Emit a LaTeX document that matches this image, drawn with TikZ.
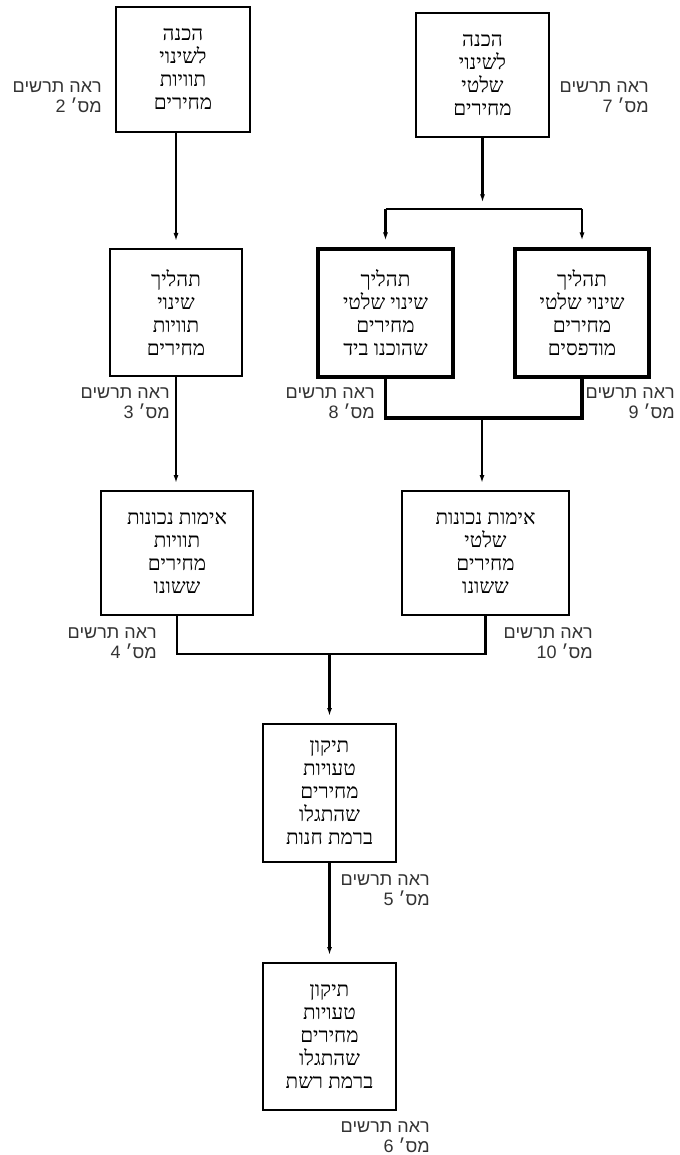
\documentclass[tikz,border=0pt]{standalone}
\usepackage{fontspec}
\usepackage{tikz}
\usetikzlibrary{arrows.meta,positioning,calc}
\TeXXeTstate=1
\newfontfamily\hebboxfont[Script=Hebrew]{Liberation Serif}
\newfontfamily\heblblfont[Script=Hebrew]{Liberation Sans}
\newcommand{\rtline}[1]{\beginR #1\endR}

\begin{document}
\begin{tikzpicture}[x=0.75pt,y=-0.75pt,
  stepbox/.style={draw,line width=2pt,align=center,inner sep=0pt,
    font=\hebboxfont\fontsize{15.5}{17.25}\selectfont},
  heavybox/.style={stepbox,line width=2.8pt},
  seeref/.style={anchor=east,align=right,inner sep=0pt,text=black!80,
    font=\heblblfont\fontsize{13.5}{15}\selectfont},
  arr/.style={-{Latex[length=6pt,width=3.8pt]},line width=1.6pt,shorten >=5pt},
  link/.style={line width=1.6pt}]
  \useasboundingbox (0,0) rectangle (679,1155);

  % top row
  \node[stepbox,minimum width=100.5pt,minimum height=93.75pt] (prepLbl) at (183,69.5)
    {\rtline{הכנה}\\\rtline{לשינוי}\\\rtline{תוויות}\\\rtline{מחירים}};
  \node[stepbox,minimum width=99.75pt,minimum height=93pt] (prepCtl) at (482.5,75)
    {\rtline{הכנה}\\\rtline{לשינוי}\\\rtline{שלטי}\\\rtline{מחירים}};

  % second row
  \node[stepbox,minimum width=99pt,minimum height=95.25pt] (procLbl) at (176,312.5)
    {\rtline{תהליך}\\\rtline{שינוי}\\\rtline{תוויות}\\\rtline{מחירים}};
  \node[heavybox,minimum width=101.25pt,minimum height=96pt] (procHand) at (385.5,313)
    {\rtline{תהליך}\\\rtline{שינוי שלטי}\\\rtline{מחירים}\\\rtline{שהוכנו ביד}};
  \node[heavybox,minimum width=100.5pt,minimum height=96pt] (procPrint) at (582,313)
    {\rtline{תהליך}\\\rtline{שינוי שלטי}\\\rtline{מחירים}\\\rtline{מודפסים}};

  % third row
  \node[stepbox,minimum width=114pt,minimum height=93pt] (checkLbl) at (177,553)
    {\rtline{אימות נכונות}\\\rtline{תוויות}\\\rtline{מחירים}\\\rtline{ששונו}};
  \node[stepbox,minimum width=125.25pt,minimum height=93pt] (checkCtl) at (485.5,553)
    {\rtline{אימות נכונות}\\\rtline{שלטי}\\\rtline{מחירים}\\\rtline{ששונו}};

  % bottom
  \node[stepbox,minimum width=99.75pt,minimum height=103.5pt] (fixShop) at (329.5,793)
    {\rtline{תיקון}\\\rtline{טעויות}\\\rtline{מחירים}\\\rtline{שהתגלו}\\\rtline{ברמת חנות}};
  \node[stepbox,minimum width=99.75pt,minimum height=110.25pt] (fixNet) at (329.5,1036.5)
    {\rtline{תיקון}\\\rtline{טעויות}\\\rtline{מחירים}\\\rtline{שהתגלו}\\\rtline{ברמת רשת}};

  % references
  \node[seeref] (ref2) at (102,97) {\rtline{ראה תרשים}\\\rtline{מס׳ \beginL2\endL}};
  \node[seeref] (ref7) at (649,97) {\rtline{ראה תרשים}\\\rtline{מס׳ \beginL7\endL}};
  \node[seeref] (ref3) at (170,403) {\rtline{ראה תרשים}\\\rtline{מס׳ \beginL3\endL}};
  \node[seeref] (ref8) at (375,403) {\rtline{ראה תרשים}\\\rtline{מס׳ \beginL8\endL}};
  \node[seeref] (ref9) at (675,403) {\rtline{ראה תרשים}\\\rtline{מס׳ \beginL9\endL}};
  \node[seeref] (ref4) at (157,643) {\rtline{ראה תרשים}\\\rtline{מס׳ \beginL4\endL}};
  \node[seeref] (ref10) at (593,643) {\rtline{ראה תרשים}\\\rtline{מס׳ \beginL10\endL}};
  \node[seeref] (ref5) at (430,890) {\rtline{ראה תרשים}\\\rtline{מס׳ \beginL5\endL}};
  \node[seeref] (ref6) at (430,1137) {\rtline{ראה תרשים}\\\rtline{מס׳ \beginL6\endL}};

  % connectors
  \coordinate (split) at (482.5,209);
  \coordinate (joinCtl) at (482,418);
  \coordinate (merge) at (329.5,654);

  \draw[arr] (prepLbl.south -| procLbl.north) -- (procLbl.north);
  \draw[arr] (prepCtl.south) -- (split);
  \draw[link] (split -| procHand.north) -- (split -| procPrint.north);
  \draw[arr] (split -| procHand.north) -- (procHand.north);
  \draw[arr] (split -| procPrint.north) -- (procPrint.north);

  \draw[link,line width=2.8pt] (procHand.south) -- (procHand.south |- joinCtl)
    -- (procPrint.south |- joinCtl) -- (procPrint.south);
  \draw[arr] (joinCtl) -- (joinCtl |- checkCtl.north);
  \draw[arr] (procLbl.south) -- (procLbl.south |- checkLbl.north);

  \draw[link] (checkLbl.south) -- (checkLbl.south |- merge)
    -- (checkCtl.south |- merge) -- (checkCtl.south);
  \draw[arr] (merge) -- (fixShop.north);
  \draw[arr] (fixShop.south) -- (fixNet.north);
\end{tikzpicture}
\end{document}
